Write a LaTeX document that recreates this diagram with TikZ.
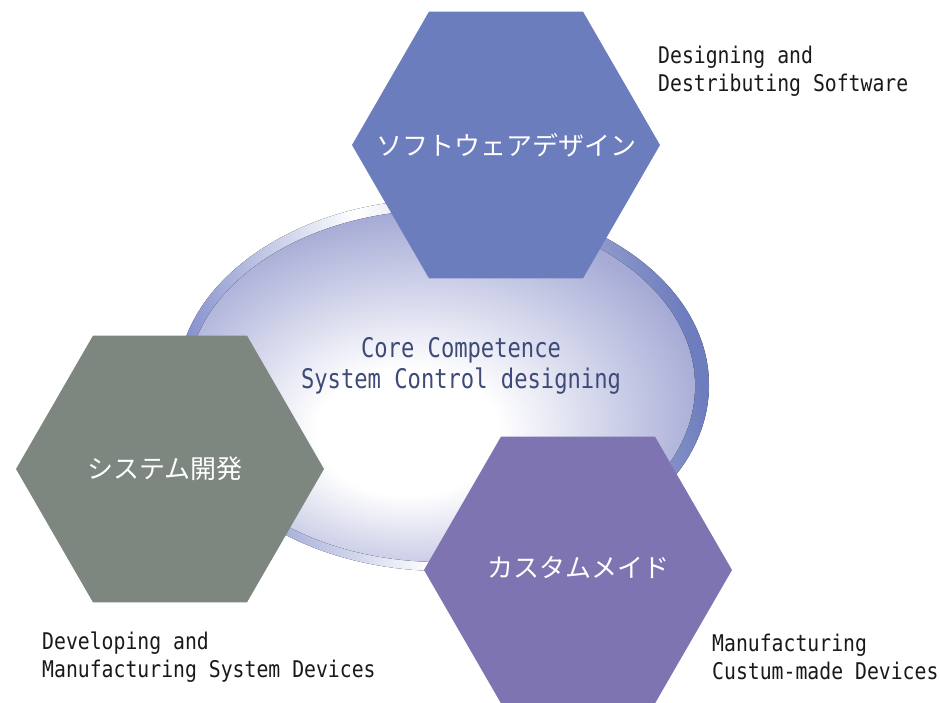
\documentclass[tikz,border=0pt]{standalone}
\usepackage{fontspec}
\newfontfamily\jpfont{Noto Sans CJK JP}
\newfontfamily\capfont[FakeStretch=0.86]{DejaVu Sans Mono}
\newfontfamily\corefont[FakeStretch=0.82]{DejaVu Sans Mono}
\usetikzlibrary{shapes.geometric}
\definecolor{softblue}{RGB}{108,125,189}
\definecolor{sysgray}{RGB}{126,134,128}
\definecolor{custpurple}{RGB}{127,116,178}
\definecolor{ringblue}{RGB}{110,125,190}
\definecolor{ringleft}{RGB}{128,140,204}
\definecolor{corelav}{RGB}{166,171,214}
\definecolor{coretext}{RGB}{62,74,120}
\definecolor{captext}{RGB}{25,25,25}
\pgfdeclarehorizontalshading{ringshade}{100bp}{color(0bp)=(ringleft); color(25bp)=(ringleft); color(45bp)=(white); color(75bp)=(ringblue); color(100bp)=(ringblue)}
\pgfdeclareradialshading{coreshade}{\pgfpoint{-4bp}{-8bp}}{color(0bp)=(white); color(9bp)=(white); color(28bp)=(corelav); color(50bp)=(corelav)}
\tikzset{
  hexa/.style={regular polygon, regular polygon sides=6, minimum size=308pt,
    inner sep=0pt, outer sep=0pt},
  hexlabel/.style={text=white, font=\jpfont\fontsize{26}{30}\selectfont},
  caption/.style={anchor=west, align=left, inner sep=0pt, text=captext,
    font=\capfont\fontsize{23}{28}\selectfont}
}
\begin{document}
\begin{tikzpicture}[x=1pt,y=-1pt]
\useasboundingbox (0,0) rectangle (940,703);
% core ellipse
\fill [shading=ringshade, shading angle=12] (443,385) ellipse [x radius=266, y radius=186];
\fill [shading=coreshade] (441,386) ellipse [x radius=254, y radius=176];
\node (core) at (461,366) [align=center, text=coretext, font=\corefont\fontsize{27}{31}\selectfont]
  {Core Competence\\System Control designing};

% three fields
\node (soft) at (506,145) [hexa, fill=softblue] {};
\node (sys) at (170,469) [hexa, fill=sysgray] {};
\node (cust) at (578,570) [hexa, fill=custpurple] {};
\node (softtext) at (soft.center) [hexlabel] {ソフトウェアデザイン};
\node (systext) at ([xshift=-5pt]sys.center) [hexlabel] {システム開発};
\node (custtext) at ([yshift=3pt]cust.center) [hexlabel] {カスタムメイド};

\node (softcap) at (658,71) [caption] {Designing and\\Destributing Software};
\node (syscap) at (42,657) [caption] {Developing and\\Manufacturing System Devices};
\node (custcap) at (712,657) [caption] {Manufacturing\\Custum-made Devices};
\end{tikzpicture}
\end{document}
